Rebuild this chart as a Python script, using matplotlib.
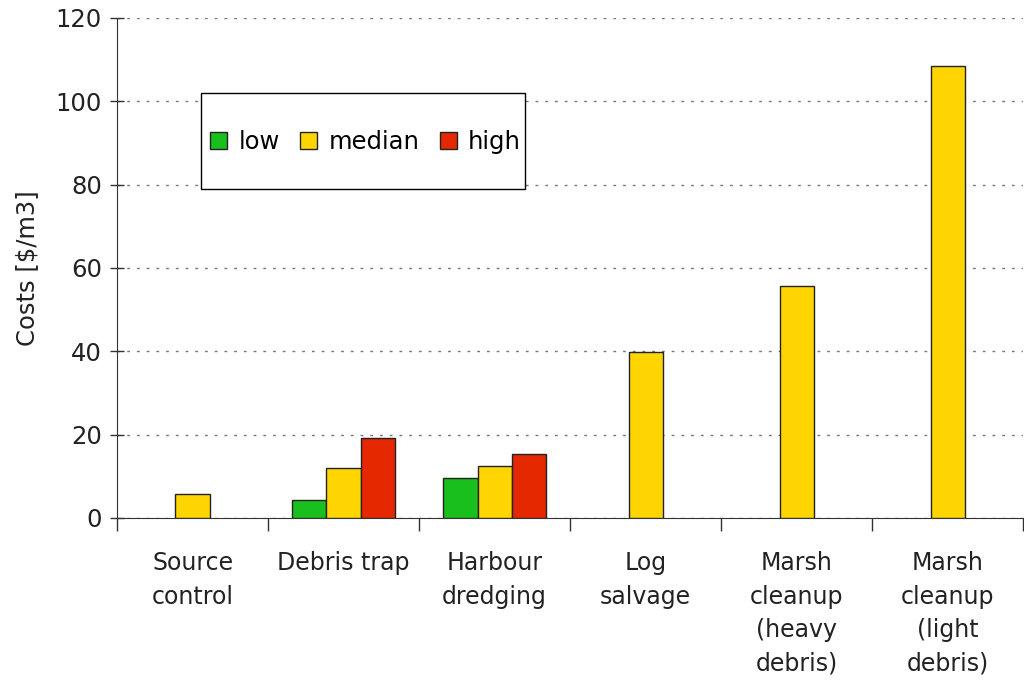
import numpy as np
import matplotlib.pyplot as plt
from matplotlib.ticker import FixedLocator, NullFormatter
from matplotlib.patches import Rectangle

categories = ["Source\ncontrol", "Debris trap", "Harbour\ndredging", "Log\nsalvage",
              "Marsh\ncleanup\n(heavy\ndebris)", "Marsh\ncleanup\n(light\ndebris)"]
low = [np.nan, 4.3, 9.6, np.nan, np.nan, np.nan]
median = [5.7, 12.0, 12.4, 39.8, 55.6, 108.5]
high = [np.nan, 19.2, 15.4, np.nan, np.nan, np.nan]

plt.rcParams['font.family'] = ['DejaVu Sans']

fig = plt.figure(figsize=(10.24, 6.81), dpi=100)
ax = fig.add_axes([0.1143, 0.2394, 0.885, 0.7342])

x = np.arange(len(categories)) + 0.5
w = 0.227
ax.bar(x - w, low, w, color='#19BF1C', edgecolor='#222222', linewidth=1, label='low', zorder=3)
ax.bar(x, median, w, color='#FFD500', edgecolor='#222222', linewidth=1, label='median', zorder=3)
ax.bar(x + w, high, w, color='#E62800', edgecolor='#222222', linewidth=1, label='high', zorder=3)

ax.set_xlim(0, 6)
ax.set_ylim(0, 120)
ax.set_yticks(range(0, 121, 20))
ax.yaxis.grid(True, linestyle=(0, (2, 5)), color='#777777', linewidth=1)
ax.set_axisbelow(True)

ax.xaxis.set_major_locator(FixedLocator(range(7)))
ax.xaxis.set_major_formatter(NullFormatter())
ax.xaxis.set_minor_locator(FixedLocator(x))
ax.set_xticklabels(categories, minor=True, fontsize=17, linespacing=1.5, va='top', color='#222222')
ax.tick_params(axis='x', which='minor', length=0, pad=24)
ax.tick_params(axis='x', which='major', length=9, direction='out', width=1, color='#333333')
ax.tick_params(axis='y', direction='inout', length=10, width=1, color='#333333',
               labelsize=17.5, labelcolor='#222222', pad=6)

for s in ['top', 'right']:
    ax.spines[s].set_visible(False)
for s in ['left', 'bottom']:
    ax.spines[s].set_color('#333333')

ax.set_ylabel('Costs [$/m3]', fontsize=17.5, labelpad=12, color='#222222')

leg = ax.legend(loc='center left', bbox_to_anchor=(0.103, 0.752), ncol=3, fontsize=17.5,
                frameon=False, borderpad=0, handlelength=0.7, handleheight=0.7,
                handletextpad=0.45, columnspacing=0.85, borderaxespad=0)
ax.add_patch(Rectangle((0.0927, 0.658), 0.3576, 0.192, transform=ax.transAxes,
                       facecolor='white', edgecolor='black', linewidth=1, zorder=4))
leg.set_zorder(5)

fig.savefig('out.png', dpi=100)
